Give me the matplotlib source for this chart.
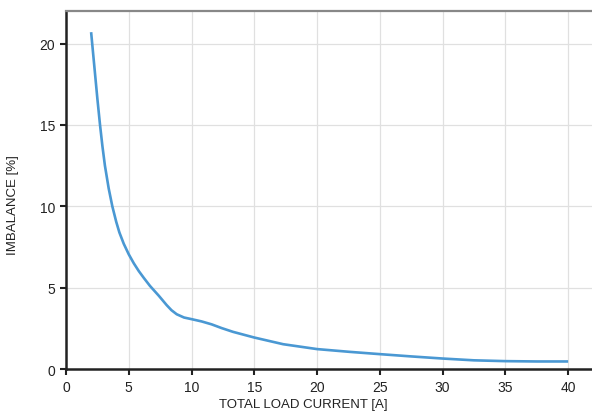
import matplotlib.pyplot as plt

plt.rcParams['font.family'] = ['Liberation Sans', 'DejaVu Sans']

# load current [A] vs imbalance [%]
current = [2, 2.5, 2.71, 2.9, 3.1, 3.4, 3.69, 4.0, 4.25, 4.6, 5.0, 5.4, 5.8,
           6.2, 6.69, 7.4, 8.02, 8.4, 8.82, 9.4, 10.0, 10.8, 11.6, 12.4, 13.3,
           15.0, 17.3, 20.0, 22.6, 25.0, 27.5, 30.0, 32.5, 35.0, 37.5, 40.0]
imbalance = [20.7, 16.6, 15.0, 13.7, 12.5, 11.1, 10.0, 9.05, 8.4, 7.7, 7.05,
             6.5, 6.02, 5.6, 5.11, 4.5, 3.93, 3.62, 3.37, 3.17, 3.07, 2.93,
             2.75, 2.52, 2.29, 1.94, 1.53, 1.23, 1.06, 0.92, 0.78, 0.65, 0.54,
             0.49, 0.47, 0.47]

fig = plt.figure(figsize=(5.92, 4.14), dpi=100)
ax = fig.add_axes([0.1115, 0.106, 0.8885, 0.865])

ax.plot(current, imbalance, color='#4a98d3', lw=1.9,
        solid_capstyle='butt', solid_joinstyle='round')

ax.set_xlim(0, 41.9)
ax.set_ylim(0, 22)
ax.set_xticks([0, 5, 10, 15, 20, 25, 30, 35, 40])
ax.set_yticks([0, 5, 10, 15, 20])
ax.grid(True, color='#e0e0e0', lw=0.9)
ax.set_axisbelow(True)

ax.spines['right'].set_visible(False)
ax.spines['top'].set_color('#888888')
ax.spines['top'].set_linewidth(1.6)
for s in ('left', 'bottom'):
    ax.spines[s].set_color('#222222')
    ax.spines[s].set_linewidth(1.8)
ax.tick_params(direction='out', length=4, width=1.5, color='#222222',
               labelsize=10, labelcolor='#222222', pad=4)

ax.set_xlabel('TOTAL LOAD CURRENT [A]', fontsize=9.5, color='#222222')
ax.xaxis.set_label_coords(0.452, -0.08)
ax.set_ylabel('IMBALANCE [%]', fontsize=9.5, color='#222222')
ax.yaxis.set_label_coords(-0.09, 0.46)

fig.savefig('out.png', dpi=100)
